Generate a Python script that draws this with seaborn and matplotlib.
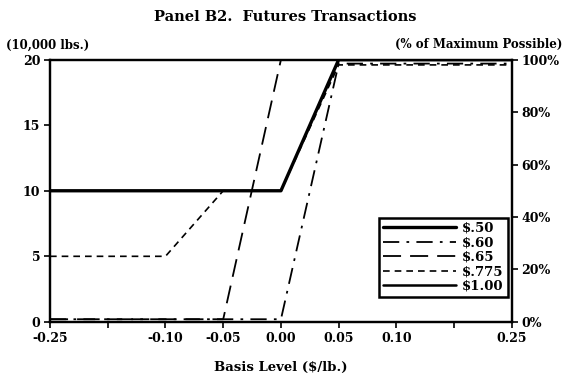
import pandas as pd
import numpy as np
import matplotlib.pyplot as plt
import seaborn as sns

# basis levels (equally spaced on the original chart)
basis = [-0.25, -0.1875, -0.10, -0.05, 0.00, 0.05, 0.10, 0.1875, 0.25]
tick_labels = ["-0.25", "", "-0.10", "-0.05", "0.00", "0.05", "0.10", "", "0.25"]

# futures transactions (10,000 lbs.) by price expectation
p50 = [10, 10, 10, 10, 10, 20, 20, 20, 20]
p60 = [0.2, 0.2, 0.2, 0.2, 0.2, 19.7, 19.7, 19.7, 19.7]
p65 = [0.2, 0.2, 0.2, 0.2, 20, 20, 20, 20, 20]
p775 = [5, 5, 5, 10, 10, 19.6, 19.6, 19.6, 19.6]
p100 = [0, 0, 0, 0, 0, 0, 0, 0, 0]

series_names = ["$.50", "$.60", "$.65", "$.775", "$1.00"]
series_vals = [p50, p60, p65, p775, p100]

rows = []
for name, vals in zip(series_names, series_vals):
    for i, v in enumerate(vals):
        rows.append({"pos": i, "basis": basis[i], "price": name, "qty": v})
df = pd.DataFrame(rows)

sns.set_style("ticks", {"axes.edgecolor": "black", "text.color": "black",
                        "axes.labelcolor": "black", "xtick.color": "black",
                        "ytick.color": "black"})
plt.rcParams['font.family'] = ['DejaVu Serif']

styles = {
    "$.50": dict(lw=2.4, dashes=(None, None)),
    "$.60": dict(lw=1.3, dashes=(9, 4, 1.5, 4)),
    "$.65": dict(lw=1.3, dashes=(10, 5)),
    "$.775": dict(lw=1.2, dashes=(4, 3)),
    "$1.00": dict(lw=1.8, dashes=(None, None)),
}

fig = plt.figure(figsize=(5.65, 3.8), dpi=100)
ax = fig.add_axes([0.0885, 0.153, 0.8175, 0.69])

for name in series_names:
    st = styles[name]
    sub = df[df["price"] == name]
    sns.lineplot(data=sub, x="pos", y="qty", ax=ax, color="black",
                 linewidth=st["lw"], label=name)
    ln = ax.lines[-1]
    if st["dashes"][0] is not None:
        ln.set_dashes(st["dashes"])

ax.set_xlim(0, 8)
ax.set_ylim(0, 20)
ax.set_xticks(range(len(basis)))
ax.set_xticklabels(tick_labels, fontsize=9, fontweight="bold")
ax.set_yticks([0, 5, 10, 15, 20])
ax.set_yticklabels(["0", "5", "10", "15", "20"], fontsize=9, fontweight="bold")
ax.set_xlabel("Basis Level ($/lb.)", fontsize=9.5, fontweight="bold", labelpad=12)
ax.set_ylabel("")
for sp in ax.spines.values():
    sp.set_visible(True)
    sp.set_linewidth(1.6)
ax.tick_params(axis="both", direction="out", length=4, width=1.2, pad=3)

axr = ax.twinx()
axr.set_ylim(0, 100)
axr.set_yticks([0, 20, 40, 60, 80, 100])
axr.set_yticklabels(["0%", "20%", "40%", "60%", "80%", "100%"], fontsize=9, fontweight="bold")
axr.tick_params(axis="y", direction="out", length=4, width=1.2, pad=3)
for sp in axr.spines.values():
    sp.set_linewidth(1.6)

leg = ax.legend(loc="lower right", bbox_to_anchor=(0.991, 0.095), borderaxespad=0,
                frameon=True, framealpha=1, fancybox=False, edgecolor="black",
                fontsize=9.5, handlelength=5.5, labelspacing=0.12, borderpad=0.3,
                handletextpad=0.5)
leg.get_frame().set_linewidth(1.8)
for t in leg.get_texts():
    t.set_fontweight("bold")

fig.text(0.505, 0.955, "Panel B2.  Futures Transactions", ha="center", va="center",
         fontsize=10.5, fontweight="bold")
fig.text(0.01, 0.882, "(10,000 lbs.)", ha="left", va="center", fontsize=8.5, fontweight="bold")
fig.text(0.995, 0.882, "(% of Maximum Possible)", ha="right", va="center", fontsize=8.5,
         fontweight="bold")

fig.savefig("out.png", dpi=100)
